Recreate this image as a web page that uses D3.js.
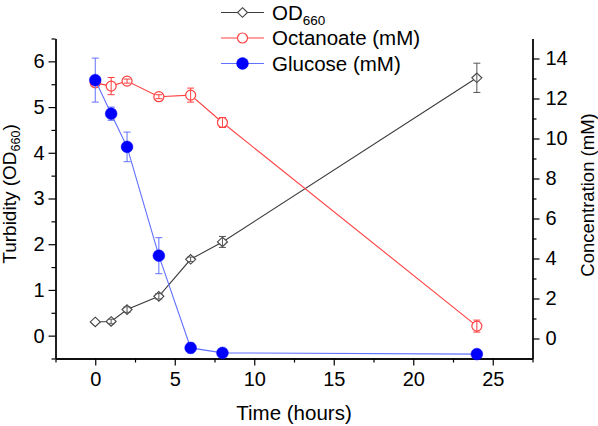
<!DOCTYPE html>
<html>
<head>
<meta charset="utf-8">
<script src="https://cdn.jsdelivr.net/npm/d3@7/dist/d3.min.js"></script>
<style>
  body { margin: 0; background: #fff; }
  text { font-family: "Liberation Sans", Arial, sans-serif; fill: #000; }
</style>
</head>
<body>
<div id="chart"></div>
<script>
var width = 598;
var height = 426;

// data
var hours = [0, 1, 2, 4, 6, 8, 24];
var od660 = [0.30, 0.31, 0.57, 0.86, 1.67, 2.05, 5.64];
var odErr = [0, 0.05, 0.06, 0.06, 0.05, 0.12, 0.32];
var octanoate = [12.78, 12.62, 12.87, 12.09, 12.17, 10.80, 0.62];
var octErr = [0.15, 0.43, 0.10, 0.10, 0.35, 0.25, 0.30];
var glucose = [12.92, 11.24, 9.58, 4.14, -0.47, -0.72, -0.78];
var gluErr = [1.10, 0.33, 0.74, 0.90, 0.25, 0.12, 0.05];

var xTicks = [0, 5, 10, 15, 20, 25];
var yLeftTicks = [0, 1, 2, 3, 4, 5, 6];
var yRightTicks = [0, 2, 4, 6, 8, 10, 12, 14];

var x0 = 55.5, x1 = 532.5, yTop = 38.5, yBot = 358.5;

var x = d3.scaleLinear().domain([-2.5, 27.5]).range([x0, x1]);
var yL = d3.scaleLinear().domain([-0.5, 6.5]).range([yBot, yTop]);
var yR = d3.scaleLinear().domain([-1, 15]).range([yBot, yTop]);

var svg = d3.select("#chart").append("svg")
  .attr("width", width)
  .attr("height", height);

// axes
function minor(a, b, step) { return d3.range(a, b + 1e-9, step); }
var fmt = d3.format("d");

svg.append("g").attr("transform", "translate(0," + yBot + ")")
  .call(d3.axisBottom(x).tickValues(xTicks).tickFormat(fmt).tickSize(7).tickPadding(6).tickSizeOuter(0));
svg.append("g").attr("transform", "translate(0," + yBot + ")")
  .call(d3.axisBottom(x).tickValues(minor(-2.5, 27.5, 2.5).filter(v => v % 5 !== 0)).tickSize(4).tickFormat("").tickSizeOuter(0));

svg.append("g").attr("transform", "translate(" + x0 + ",0)")
  .call(d3.axisLeft(yL).tickValues(yLeftTicks).tickFormat(fmt).tickSize(7).tickPadding(4).tickSizeOuter(0));
svg.append("g").attr("transform", "translate(" + x0 + ",0)")
  .call(d3.axisLeft(yL).tickValues(minor(-0.5, 6.5, 0.5).filter(v => v % 1 !== 0)).tickSize(4).tickFormat("").tickSizeOuter(0));

svg.append("g").attr("transform", "translate(" + x1 + ",0)")
  .call(d3.axisRight(yR).tickValues(yRightTicks).tickFormat(fmt).tickSize(7).tickPadding(6).tickSizeOuter(0));
svg.append("g").attr("transform", "translate(" + x1 + ",0)")
  .call(d3.axisRight(yR).tickValues(minor(-1, 15, 2).filter(v => v !== -1 && v !== 15)).tickSize(4).tickFormat("").tickSizeOuter(0));

svg.selectAll(".domain").attr("stroke", "#000").attr("stroke-width", 1.3);
svg.selectAll(".tick line").attr("stroke", "#000").attr("stroke-width", 1.2);
svg.selectAll(".tick text").style("font-size", "20px").style("font-family", "'Liberation Sans', Arial, sans-serif");

// axis titles
svg.append("text").attr("x", 294).attr("y", 420)
  .attr("text-anchor", "middle").style("font-size", "20.5px").text("Time (hours)");

var lt = svg.append("text")
  .attr("transform", "translate(16,194) rotate(-90)")
  .attr("text-anchor", "middle").style("font-size", "19px");
lt.append("tspan").text("Turbidity (OD");
lt.append("tspan").attr("dy", 4).style("font-size", "12.5px").text("660");
lt.append("tspan").attr("dy", -4).text(")");

svg.append("text")
  .attr("transform", "translate(594,195) rotate(-90)")
  .attr("text-anchor", "middle").style("font-size", "18.5px").text("Concentration (mM)");

// series (error bars sit on top of open markers, under the filled ones)
var series = [
  { name: "od", vals: od660, err: odErr, y: yL, line: "#3c3c3c", ebar: "#555", mark: "diamond", barsOnTop: true },
  { name: "oct", vals: octanoate, err: octErr, y: yR, line: "#ff4040", ebar: "#ff4040", mark: "open", barsOnTop: true },
  { name: "glu", vals: glucose, err: gluErr, y: yR, line: "#6070ff", ebar: "#6070ff", mark: "filled", barsOnTop: false }
];

function drawMarker(g, kind, cx, cy) {
  if (kind === "diamond") {
    g.append("path")
      .attr("d", d3.symbol().type(d3.symbolDiamond2).size(58)())
      .attr("transform", "translate(" + cx + "," + cy + ") scale(1.05,1)")
      .attr("fill", "#fff").attr("stroke", "#444").attr("stroke-width", 1.1);
  } else if (kind === "open") {
    g.append("circle").attr("cx", cx).attr("cy", cy).attr("r", 5)
      .attr("fill", "#fff").attr("stroke", "#ff4040").attr("stroke-width", 1.2);
  } else {
    g.append("circle").attr("cx", cx).attr("cy", cy).attr("r", 5.9)
      .attr("fill", "#0000ff").attr("stroke", "#0000ff").attr("stroke-width", 0.5);
  }
}

function drawBars(g, s) {
  hours.forEach(function(h, i) {
    if (!s.err[i]) return;
    var cx = x(h), top = s.y(s.vals[i] + s.err[i]), bot = s.y(s.vals[i] - s.err[i]);
    g.append("line").attr("x1", cx).attr("x2", cx).attr("y1", top).attr("y2", bot)
      .attr("stroke", s.ebar).attr("stroke-width", 1);
    [top, bot].forEach(function(yy) {
      g.append("line").attr("x1", cx - 3.5).attr("x2", cx + 3.5).attr("y1", yy).attr("y2", yy)
        .attr("stroke", s.ebar).attr("stroke-width", 1);
    });
  });
}

series.forEach(function(s) {
  var g = svg.append("g");
  var pts = hours.map((h, i) => [x(h), s.y(s.vals[i])]);
  g.append("path").datum(pts)
    .attr("d", d3.line())
    .attr("fill", "none").attr("stroke", s.line).attr("stroke-width", 1.1);
  if (!s.barsOnTop) drawBars(g, s);
  hours.forEach(function(h, i) { drawMarker(g, s.mark, x(h), s.y(s.vals[i])); });
  if (s.barsOnTop) drawBars(g, s);
});

// legend
var legend = [
  { label: "OD", sub: "660", s: series[0] },
  { label: "Octanoate (mM)", s: series[1] },
  { label: "Glucose (mM)", s: series[2] }
];
legend.forEach(function(d, i) {
  var ly = 12.5 + i * 25.5;
  var g = svg.append("g");
  g.append("line").attr("x1", 221).attr("x2", 264).attr("y1", ly).attr("y2", ly)
    .attr("stroke", d.s.line).attr("stroke-width", 1.1);
  drawMarker(g, d.s.mark, 242.5, ly);
  var t = g.append("text").attr("x", 272).attr("y", ly + 7).style("font-size", "20.5px");
  t.append("tspan").text(d.label);
  if (d.sub) t.append("tspan").attr("dy", 5).style("font-size", "13.5px").text(d.sub);
});
</script>
</body>
</html>
